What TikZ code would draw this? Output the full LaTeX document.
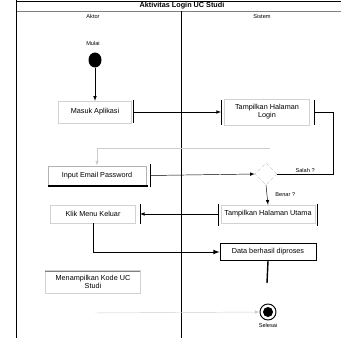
\documentclass[tikz,border=0pt]{standalone}
\usepackage{fontspec}
\setmainfont{Liberation Sans}
\usetikzlibrary{shapes.geometric,arrows,positioning,calc}

\begin{document}
\begin{tikzpicture}[x=0.03cm, y=-0.03cm,
    act/.style={rectangle, draw=gray!35, inner sep=1.5pt, font=\fontsize{6.2}{7}\selectfont, align=center},
    actd/.style={act, draw=black, thick},
    bar/.style={draw, thick},
    fl/.style={->, >=latex, thin},
    flf/.style={->, >=latex, thin, gray!40},
    flt/.style={->, >=latex, thick},
    lbl/.style={font=\fontsize{4.8}{5.4}\selectfont, inner sep=1pt}
]
\useasboundingbox (0,0) rectangle (341,338);
% frame and lanes
\draw[thin] (16,1) -- (341,1);
\draw[gray, thick] (16,11) -- (341,11);
\draw[thick] (16,0) -- (16,338);
\draw[thick] (181,11) -- (181,338);
\node[lbl, font=\fontsize{6.2}{7}\selectfont] (title) at (182,5.5) {\textbf{Aktivitas Login UC Studi}};
\node[lbl] (aktor) at (93,16) {Aktor};
\node[lbl] (sistem) at (262,16) {Sistem};
% start
\node[lbl] (lmulai) at (93,43) {Mulai};
\node[ellipse, fill=black, minimum width=13*0.03cm, minimum height=15*0.03cm, inner sep=0pt] (mulai) at (95,60) {};
\node[act, minimum width=73*0.03cm, minimum height=22*0.03cm] (masuk) at (95,112) {Masuk Aplikasi};
\draw[bar] (133,100) -- (133,123);
\node[act, minimum width=85*0.03cm, minimum height=26*0.03cm] (login) at (267,112) {Tampilkan Halaman\\Login};
\draw[bar] (221,100) -- (221,125);
\draw[bar] (314,100) -- (314,125);
\node[actd, draw=gray!60, minimum width=98*0.03cm, minimum height=20*0.03cm] (input) at (97,176) {Input Email Password};
\draw[very thick] (48,186) -- (148,186);
\draw[bar] (150,164) -- (150,187);
\node[diamond, draw=gray!50, densely dashed, minimum size=22*0.03cm, inner sep=0pt] (cek) at (266,174) {};
\node[act, minimum width=94*0.03cm, minimum height=18*0.03cm] (utama) at (268,214) {Tampilkan Halaman Utama};
\draw[bar] (218,204) -- (218,226);
\draw[bar] (317,204) -- (317,226);
\node[act, minimum width=85*0.03cm, minimum height=18*0.03cm] (keluar) at (93,214) {Klik Menu Keluar};
\draw[bar] (140,204) -- (140,224);
\node[actd, minimum width=96*0.03cm, minimum height=17*0.03cm] (data) at (268,252) {Data berhasil diproses};
\node[act, minimum width=95*0.03cm, minimum height=23*0.03cm] (kode) at (93,282) {Menampilkan Kode UC\\Studi};
\draw[gray] (45,271) -- (140,271);
\node[circle, draw, thick, minimum size=16*0.03cm, inner sep=0pt] (selesai) at (268,312) {};
\node[circle, fill=black, minimum size=10*0.03cm, inner sep=0pt] (selesaii) at (268,312) {};
\node[lbl] (lselesai) at (268,325) {Selesai};
% coordinates
\coordinate (b1) at (133,112);
\coordinate (b2) at (221,112);
\coordinate (b3) at (314,112);
\coordinate (b4) at (150,175.5);
\coordinate (b5) at (218,214);
\coordinate (b6) at (140,214);
\coordinate (c1) at (270,148);
\coordinate (c2) at (267,283);
\coordinate (c3) at (95,313);
% flows
\draw[fl] (mulai) -- (masuk);
\draw[fl] (b1) -- (b2);
\draw[thin] (b3) -- (333,112) |- (cek.east) node[lbl, pos=0.75, above] {Salah ?};
\draw[flf] (c1) -| (input.north);
\draw[fl] (b4) -- (cek.west);
\draw[fl] (cek.south) -- node[lbl, right=6pt] {Benar ?} (utama.north);
\draw[fl] (b5) -- (b6);
\draw[flt] (keluar.south) |- (data.west);
\draw[very thick] (data.south) -- (c2);
\draw[flf] (c3) -- (selesai.west);
\end{tikzpicture}
\end{document}
